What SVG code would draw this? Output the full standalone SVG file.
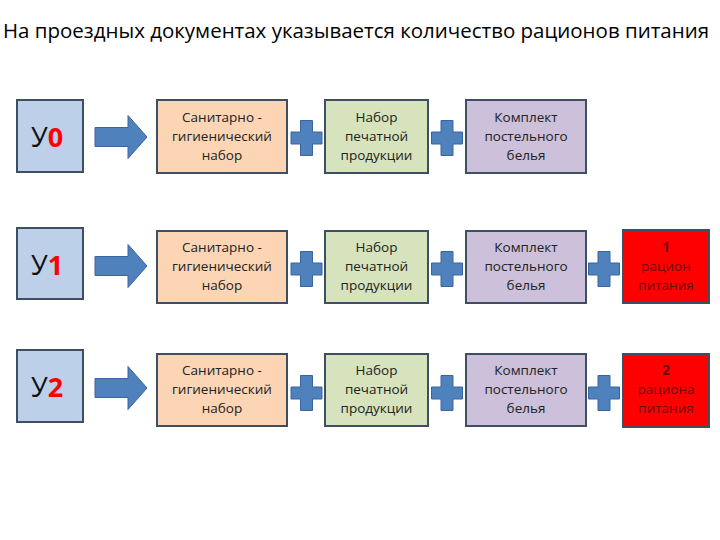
<svg xmlns="http://www.w3.org/2000/svg" width="720" height="540" viewBox="0 0 720 540">
<defs>
<style>
.title{font-family:"Open Sans","Liberation Sans",sans-serif;font-size:20px;fill:#000}
.box{stroke:#3F4F63;stroke-width:2}
.ybox{fill:#BCD0EA}
.san{fill:#FCD5B4}
.pech{fill:#D6E3BC}
.kom{fill:#CCC0DA}
.red{fill:#FF0000}
.t{font-family:"Open Sans","Liberation Sans",sans-serif;font-size:13.5px;fill:#222;text-anchor:middle}
.rt{font-family:"Open Sans","Liberation Sans",sans-serif;font-size:13.5px;fill:#6A0A0A;text-anchor:middle}
.y{font-family:"Open Sans","Liberation Sans",sans-serif;font-size:27px;fill:#111}
.yn{fill:#FF0000;font-weight:bold}
.shape{fill:#4F81BD;stroke:#3A64A0;stroke-width:1}
</style>
<path id="arrow" d="M0,-9.5 H33 V-21.5 L52,0 L33,21.5 V9.5 H0 Z"/>
<path id="plus" d="M-6,-17.5 H6 V-6 H15.5 V6 H6 V17.5 H-6 V6 H-15.5 V-6 H-6 Z"/>
</defs>
<rect width="720" height="540" fill="#fff"/>
<text class="title" x="3" y="38" textLength="706" lengthAdjust="spacingAndGlyphs">На проездных документах указывается количество рационов питания</text>

<g id="connectors">
<use href="#arrow" class="shape" x="95" y="137"/>
<use href="#arrow" class="shape" x="95" y="266"/>
<use href="#arrow" class="shape" x="95" y="388"/>
<use href="#plus" class="shape" x="306.5" y="138"/>
<use href="#plus" class="shape" x="447" y="138"/>
<use href="#plus" class="shape" x="306.5" y="269"/>
<use href="#plus" class="shape" x="447" y="269"/>
<use href="#plus" class="shape" x="604" y="269"/>
<use href="#plus" class="shape" x="306.5" y="393"/>
<use href="#plus" class="shape" x="447" y="393"/>
<use href="#plus" class="shape" x="604" y="393"/>
</g>

<g id="y0">
<rect class="box ybox" x="17" y="100" width="66" height="72"/>
<text class="y" x="31" y="147">У<tspan class="yn">0</tspan></text>
</g>
<g id="y1">
<rect class="box ybox" x="17" y="228" width="66" height="71"/>
<text class="y" x="31" y="275">У<tspan class="yn">1</tspan></text>
</g>
<g id="y2">
<rect class="box ybox" x="17" y="350" width="66" height="72"/>
<text class="y" x="31" y="397">У<tspan class="yn">2</tspan></text>
</g>

<g id="san0">
<rect class="box san" x="157" y="100" width="130" height="73"/>
<text class="t" x="222" y="122">Санитарно  -</text>
<text class="t" x="222" y="141">гигиенический</text>
<text class="t" x="222" y="160">набор</text>
</g>
<g id="pech0">
<rect class="box pech" x="325" y="100" width="103" height="73"/>
<text class="t" x="376.5" y="122">Набор</text>
<text class="t" x="376.5" y="141">печатной</text>
<text class="t" x="376.5" y="160">продукции</text>
</g>
<g id="kom0">
<rect class="box kom" x="466" y="100" width="120" height="73"/>
<text class="t" x="526" y="122">Комплект</text>
<text class="t" x="526" y="141">постельного</text>
<text class="t" x="526" y="160">белья</text>
</g>

<g id="san1">
<rect class="box san" x="157" y="231" width="130" height="72"/>
<text class="t" x="222" y="252">Санитарно  -</text>
<text class="t" x="222" y="271">гигиенический</text>
<text class="t" x="222" y="290">набор</text>
</g>
<g id="pech1">
<rect class="box pech" x="325" y="231" width="103" height="72"/>
<text class="t" x="376.5" y="252">Набор</text>
<text class="t" x="376.5" y="271">печатной</text>
<text class="t" x="376.5" y="290">продукции</text>
</g>
<g id="kom1">
<rect class="box kom" x="466" y="231" width="120" height="72"/>
<text class="t" x="526" y="252">Комплект</text>
<text class="t" x="526" y="271">постельного</text>
<text class="t" x="526" y="290">белья</text>
</g>
<g id="red1">
<rect class="box red" x="623" y="230" width="86" height="73"/>
<text class="rt" x="666" y="252" font-weight="bold">1</text>
<text class="rt" x="666" y="271">рацион</text>
<text class="rt" x="666" y="290">питания</text>
</g>

<g id="san2">
<rect class="box san" x="157" y="354" width="130" height="72"/>
<text class="t" x="222" y="375">Санитарно  -</text>
<text class="t" x="222" y="394">гигиенический</text>
<text class="t" x="222" y="413">набор</text>
</g>
<g id="pech2">
<rect class="box pech" x="325" y="354" width="103" height="72"/>
<text class="t" x="376.5" y="375">Набор</text>
<text class="t" x="376.5" y="394">печатной</text>
<text class="t" x="376.5" y="413">продукции</text>
</g>
<g id="kom2">
<rect class="box kom" x="466" y="354" width="120" height="72"/>
<text class="t" x="526" y="375">Комплект</text>
<text class="t" x="526" y="394">постельного</text>
<text class="t" x="526" y="413">белья</text>
</g>
<g id="red2">
<rect class="box red" x="623" y="354" width="86" height="73"/>
<text class="rt" x="666" y="375" font-weight="bold">2</text>
<text class="rt" x="666" y="394">рациона</text>
<text class="rt" x="666" y="413">питания</text>
</g>
</svg>
